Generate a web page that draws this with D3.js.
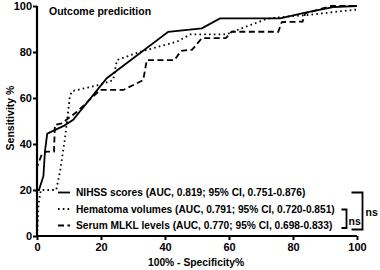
<!DOCTYPE html>
<html>
<head>
<meta charset="utf-8">
<script src="https://cdn.jsdelivr.net/npm/d3@7"></script>
<style>
  body { margin: 0; background: #fff; }
  text { font-family: "Liberation Sans", Arial, sans-serif; font-weight: bold; fill: #000; }
</style>
</head>
<body>
<div id="chart"></div>
<script>
// ROC points: [100% - specificity, sensitivity]
const nihss = [[0,0],[0,20],[0.6,20],[2,26],[2.5,37],[3.2,44.5],[8.5,48],[11.3,50.5],
  [21.8,68.6],[41,88.8],[51.5,90.3],[57.2,94.6],[76,94.6],[83.5,97],[92.5,99.5],[100,100]];
const hematoma = [[0,0],[0.5,14],[1.2,20],[6,20],[7.2,28],[8.7,42],[10.3,61],[11,63],
  [19.5,65.7],[23.8,67.8],[25,76.5],[32,80],[43.7,84.5],[48,87.7],[59.3,87.7],[61.5,89],
  [72,94.5],[78,95.4],[84,96],[100,98.5]];
const mlkl = [[0,0],[0,30],[1.5,35.5],[3,36.7],[5.3,36.7],[5.6,48.3],[7.7,49],[12.4,53.9],
  [19.7,63.5],[27,63.5],[33.2,67.8],[34.3,76.5],[43,76.5],[45,80.5],[48.5,81],[51.5,86],
  [59,86],[60.8,88.8],[75.4,88.8],[76.5,93],[83,93.2],[83.8,96.8],[92,100],[100,100]];

const seriesNames = ["NIHSS scores (AUC, 0.819; 95% CI, 0.751-0.876)",
  "Hematoma volumes (AUC, 0.791; 95% CI, 0.720-0.851)",
  "Serum MLKL levels (AUC, 0.770; 95% CI, 0.698-0.833)"];
const xTicks = [0, 20, 40, 60, 80, 100];
const yTicks = [0, 20, 40, 60, 80, 100];

const W = 380, H = 270;
const svg = d3.select("#chart").append("svg").attr("width", W).attr("height", H);

const x = d3.scaleLinear().domain([0, 100]).range([37, 357]);
const y = d3.scaleLinear().domain([0, 100]).range([236, 6]);

const dashes = [null, "1.6,3.2", "6,3.5"];
const series = [nihss, hematoma, mlkl];

const line = d3.line().x(d => x(d[0])).y(d => y(d[1]));

// curves
svg.selectAll("path.roc")
  .data(series)
  .join("path")
  .attr("class", "roc")
  .attr("d", line)
  .attr("fill", "none")
  .attr("stroke", "#000")
  .attr("stroke-width", 1.8)
  .attr("stroke-dasharray", (d, i) => dashes[i]);

// axes
const xAxis = svg.append("g")
  .attr("transform", `translate(0,${y(0)})`)
  .call(d3.axisBottom(x).tickValues(xTicks).tickSizeInner(4).tickSizeOuter(0).tickPadding(3));
const yAxis = svg.append("g")
  .attr("transform", `translate(${x(0)},0)`)
  .call(d3.axisLeft(y).tickValues(yTicks).tickSizeInner(4).tickSizeOuter(0).tickPadding(1));

[xAxis, yAxis].forEach(g => {
  g.select(".domain").attr("stroke-width", 2.2);
  g.selectAll(".tick line").attr("stroke-width", 2);
  g.selectAll(".tick text")
    .attr("font-family", "Liberation Sans, Arial, sans-serif")
    .attr("font-weight", "bold")
    .attr("font-size", 11);
});
xAxis.select(".domain").attr("d", `M${x(0)},0H${x(100)}`);
yAxis.select(".domain").attr("d", `M0,${y(0) + 1}V${y(100)}`);

// title and axis labels
svg.append("text").attr("x", 49).attr("y", 15).attr("font-size", 10.5)
  .text("Outcome predicition");
svg.append("text").attr("x", 196).attr("y", 266)
  .attr("text-anchor", "middle").attr("font-size", 10.3)
  .text("100% - Specificity%");
svg.append("text")
  .attr("transform", "translate(13.5,118) rotate(-90)")
  .attr("text-anchor", "middle").attr("font-size", 10.5)
  .text("Sensitivity %");

// legend
const legend = svg.append("g");
seriesNames.forEach((name, i) => {
  const ly = 192.5 + i * 16.5;
  legend.append("line")
    .attr("x1", 58).attr("x2", 70).attr("y1", ly).attr("y2", ly)
    .attr("stroke", "#000").attr("stroke-width", 1.8)
    .attr("stroke-dasharray", dashes[i]);
  legend.append("text")
    .attr("x", 76).attr("y", ly + 3.8).attr("font-size", 10.2)
    .text(name);
});

// significance brackets
const br = svg.append("g").attr("fill", "none").attr("stroke", "#000").attr("stroke-width", 1.8);
br.append("path").attr("d", "M341.5,209.5H346.5V228H341.5");
br.append("path").attr("d", "M351.5,192.5H362.5V229.5H351.5");
svg.append("text").attr("x", 348.5).attr("y", 225).attr("font-size", 10.5).text("ns");
svg.append("text").attr("x", 365.5).attr("y", 215.5).attr("font-size", 10.5).text("ns");
</script>
</body>
</html>
